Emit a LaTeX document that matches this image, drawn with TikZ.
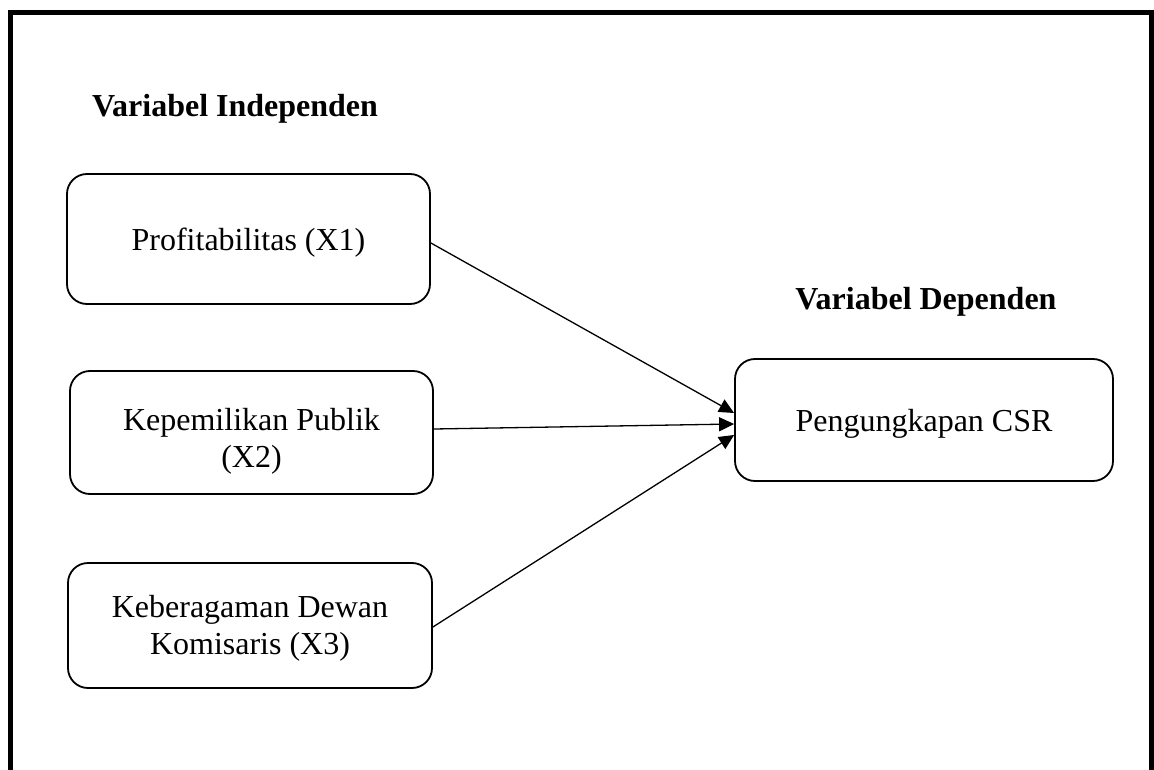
\documentclass[tikz,border=0pt]{standalone}
\usepackage{fontspec}
\setmainfont{Liberation Serif}
\usetikzlibrary{arrows.meta}
\newcommand{\boxtext}[2]{\raisebox{-#1}[\height][\depth]{\begin{tabular}{@{}c@{}}#2\end{tabular}}}
\begin{document}
\begin{tikzpicture}[x=1pt,y=-1pt,
  varbox/.style={draw,line width=1.8pt,rounded corners=20pt,
    inner sep=0pt,font=\fontsize{32}{37}\selectfont},
  heading/.style={font=\fontsize{32}{37}\selectfont\bfseries,inner sep=0pt,anchor=base},
  link/.style={line width=1.3pt,-{Triangle[length=15pt,width=14pt]}}]
\useasboundingbox (0,0) rectangle (1154,770);
\draw[line width=5pt,miter limit=10] (10.5,775) |- (1151,12.5) -- (1151,775);
\node[heading] (hin) at (235,117) {Variabel Independen};
\node[heading] (hdep) at (926,309) {Variabel Dependen};
\node[varbox,minimum width=363pt,minimum height=130pt] (x1) at (248.5,239) {\boxtext{4.6pt}{Profitabilitas (X1)}};
\node[varbox,minimum width=363pt,minimum height=123pt] (x2) at (251.5,432.5) {\boxtext{8.6pt}{Kepemilikan Publik\\(X2)}};
\node[varbox,minimum width=364pt,minimum height=125pt] (x3) at (250,625.5) {\boxtext{2.6pt}{Keberagaman Dewan\\Komisaris (X3)}};
\node[varbox,minimum width=378pt,minimum height=122pt] (csr) at (924,420) {\boxtext{3.6pt}{Pengungkapan CSR}};
\draw[link] ([yshift=-4pt]x1.east) -- ([yshift=7pt]csr.west);
\draw[link] ([yshift=3.5pt]x2.east) -- ([yshift=-4pt]csr.west);
\draw[link] ([yshift=-1.5pt]x3.east) -- ([yshift=-15pt]csr.west);
\end{tikzpicture}
\end{document}
